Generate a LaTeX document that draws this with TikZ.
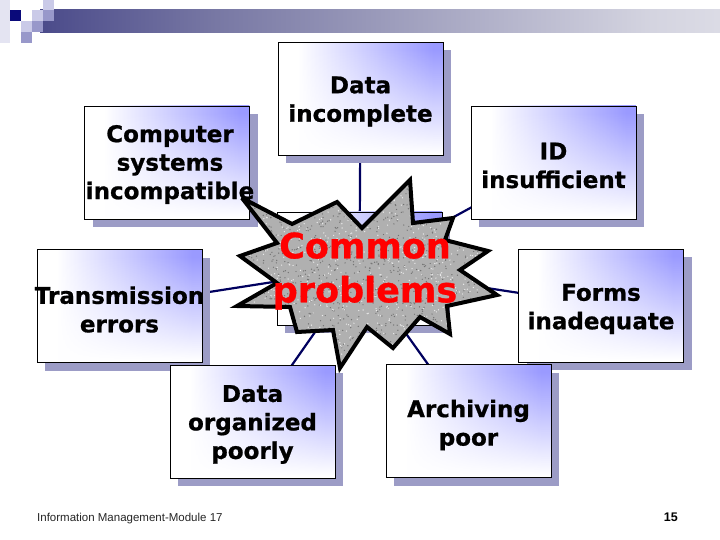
\documentclass[tikz,border=0pt]{standalone}
\usepackage{fontspec}
\setmainfont{DejaVu Sans}[BoldFeatures={FakeBold=0.8}]
\newfontfamily\footfont{Liberation Sans}
\usetikzlibrary{shadows,backgrounds,fadings}
\definecolor{boxblue}{HTML}{9A9AFF}
\definecolor{shadowcol}{HTML}{9C9CC6}
\definecolor{linecol}{HTML}{00005E}
\definecolor{hdrA}{HTML}{141468}
\definecolor{hdrA2}{HTML}{242474}
\definecolor{hdrB}{HTML}{7878A4}
\definecolor{hdrC}{HTML}{D4D4E0}
\definecolor{sqnavy}{HTML}{0A0A7A}
\definecolor{sqlight}{HTML}{CACAE8}
\definecolor{sqmid}{HTML}{9898CA}
\definecolor{sqfaint}{HTML}{E4E4F2}
\definecolor{starred}{HTML}{FF0000}
\definecolor{stargray}{HTML}{B0B0B0}
\pgfdeclarehorizontalshading{hdrshade}{100bp}{color(0bp)=(hdrA); color(14bp)=(hdrA2); color(38bp)=(hdrB); color(70bp)=(hdrC); color(100bp)=(white)}
\pgfdeclarehorizontalshading{boxh}{100bp}{color(0bp)=(white); color(31bp)=(white); color(72bp)=(boxblue); color(100bp)=(boxblue)}
\pgfdeclareverticalshading{boxfadeshade}{100bp}{color(0bp)=(black); color(26bp)=(black); color(72bp)=(white); color(100bp)=(white)}
\pgfdeclarefading{boxfade}{\pgfuseshading{boxfadeshade}}
\tikzset{
  probbox/.style={draw=black, line width=0.9pt, minimum width=165pt, minimum height=113pt,
    inner sep=0pt, outer sep=0pt, fill=white,
    path picture={\shade[shading=boxh, path fading=boxfade] (path picture bounding box.south west) rectangle (path picture bounding box.north east);},
    drop shadow={shadow xshift=8pt, shadow yshift=-8pt, fill=shadowcol, opacity=1}},
  boxtext/.style={font=\fontsize{23}{28.5}\selectfont\bfseries, align=center, inner sep=0pt, text=black},
  conn/.style={draw=linecol, line width=2.2pt},
  startext/.style={font=\fontsize{35}{44}\selectfont\bfseries, align=center, inner sep=0pt, text=starred},
}
\begin{document}
\begin{tikzpicture}[x=1pt,y=-1pt]
\useasboundingbox (0,0) rectangle (720,540);
% header bar
\shade[shading=hdrshade] (40,10) rectangle (720,33);
\fill[sqfaint] (0,0) rectangle (10,43);
\fill[sqnavy] (10,10) rectangle (21,21);
\fill[sqlight] (21,21) rectangle (32,32);
\fill[sqmid] (21,32) rectangle (32,43);
\fill[sqlight] (32,10) rectangle (43,21);
\fill[sqmid] (32,21) rectangle (43,32);
\fill[sqlight] (43,0) rectangle (54,10);
\fill[sqmid] (43,10) rectangle (54,21);
% boxes
\node[probbox] (dinc) at (360.5,99) {};
\node[probbox] (comp) at (167,162.5) {};
\node[probbox] (idin) at (553.5,162.5) {};
\node[probbox] (trans) at (119.5,306) {};
\node[probbox] (forms) at (601,305.5) {};
\node[probbox] (dorg) at (252.5,421.5) {};
\node[probbox] (arch) at (468.5,421) {};
\node[probbox] (hub) at (359.5,268.5) {};
% texts
\node[boxtext] (dinc-t) at (360.5,101.5) {Data\\incomplete};
\node[boxtext] (comp-t) at (170,164.5) {Computer\\systems\\incompatible};
\node[boxtext] (idin-t) at (553.5,165.5) {ID\\insufficient};
\node[boxtext] (trans-t) at (119.5,309.5) {Transmission\\errors};
\node[boxtext] (forms-t) at (601,309) {Forms\\inadequate};
\node[boxtext] (dorg-t) at (252.5,424.5) {Data\\organized\\poorly};
\node[boxtext] (arch-t) at (468.5,425) {Archiving\\poor};
% connectors
\begin{scope}[on background layer]
\foreach \b in {dinc,comp,idin,trans,forms,dorg,arch}
  \draw[conn] (hub.center) -- (\b.center);
\end{scope}
% star
\def\starpath{(410,180) -- (413,223) -- (453,218) -- (445,240) -- (488,251) -- (460,270) -- (497,295) -- (447,306) -- (450,334) -- (420,317) -- (393,348) -- (367,327) -- (340,368) -- (333,330) -- (297,332) -- (290,307) -- (237,306) -- (277,283) -- (240,256) -- (277,243) -- (242,198) -- (292,224) -- (337,202) -- (362,228) -- cycle}
\begin{scope}
\clip \starpath;
\fill[stargray] (230,170) rectangle (500,375);
\pgfmathsetseed{7}
\foreach \i in {1,...,1300}
  \fill[black!55] ({235+264*rnd},{178+192*rnd}) circle (0.7);
\foreach \i in {1,...,900}
  \fill[white!85!gray] ({235+264*rnd},{178+192*rnd}) circle (0.7);
\end{scope}
\draw[black, line width=4pt, line join=miter, miter limit=4] \starpath;
\node[startext] (common) at (365,271) {Common\\problems};
% footer
\node[font=\footfont\fontsize{11.5}{13}\selectfont, anchor=base west, inner sep=0pt, text=black!85] (foot) at (37,521) {Information Management-Module 17};
\node[font=\footfont\fontsize{12.5}{14}\selectfont\bfseries, anchor=base east, inner sep=0pt] (pageno) at (678,521) {15};
\end{tikzpicture}
\end{document}
